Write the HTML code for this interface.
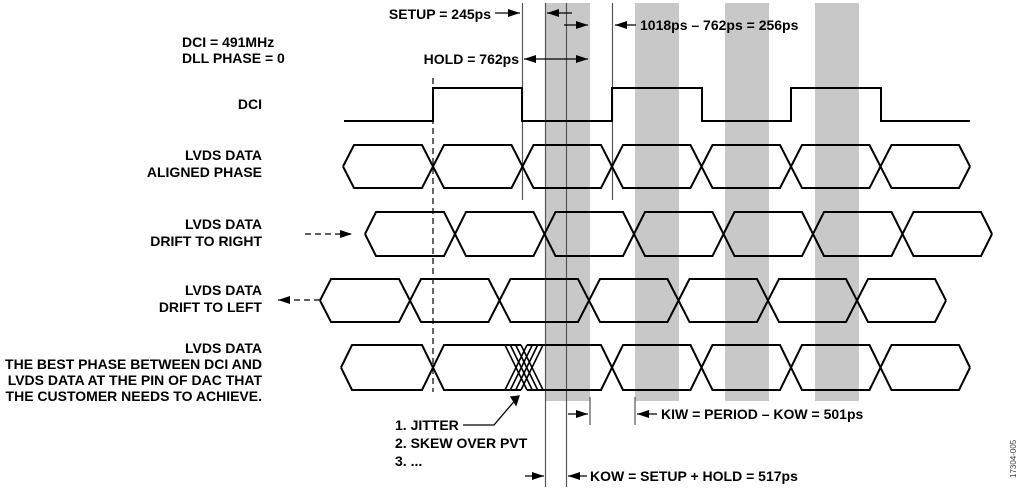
<!DOCTYPE html>
<html><head><meta charset="utf-8"><style>
html,body{margin:0;padding:0;background:#fff;}
svg{display:block;}
text{font-family:"Liberation Sans",Arial,sans-serif;font-weight:bold;font-size:14px;fill:#000;}
</style></head><body>
<svg width="1024" height="491" viewBox="0 0 1024 491" xmlns="http://www.w3.org/2000/svg">
<defs>
<marker id="ah" markerWidth="12" markerHeight="8" refX="12" refY="4" orient="auto" markerUnits="userSpaceOnUse"><path d="M0,0 L12,4 L0,8 Z" fill="#000"/></marker>
<marker id="as" markerWidth="12" markerHeight="8" refX="0" refY="4" orient="auto" markerUnits="userSpaceOnUse"><path d="M12,0 L0,4 L12,8 Z" fill="#000"/></marker>
</defs>
<g fill="#c8c8c8">
<rect x="545" y="3" width="45" height="398"/>
<rect x="635" y="3" width="44" height="398"/>
<rect x="725" y="3" width="44" height="398"/>
<rect x="815" y="3" width="44" height="398"/>
</g>
<g stroke="#555" stroke-width="1.2">
<line x1="522.5" y1="3" x2="522.5" y2="200"/>
<line x1="612.5" y1="3" x2="612.5" y2="200"/>
<line x1="545.5" y1="3" x2="545.5" y2="487"/>
<line x1="566.5" y1="3" x2="566.5" y2="487"/>
<line x1="590" y1="397" x2="590" y2="425"/>
<line x1="635" y1="397" x2="635" y2="425"/>
</g>
<line x1="433" y1="78" x2="433" y2="392" stroke="#333" stroke-width="1.5" stroke-dasharray="6,4"/>
<path d="M344,121 L433,121 L433,88 L522,88 L522,121 L612,121 L612,88 L702,88 L702,121 L791,121 L791,88 L881,88 L881,121 L970,121" fill="none" stroke="#000" stroke-width="2"/>
<g fill="none" stroke="#000" stroke-width="2" stroke-linejoin="miter">
<path d="M343,166.5 L354,145 L422,145 L444,188 L511.5,188 L533.5,145 L601,145 L623,188 L690.5,188 L712.5,145 L780,145 L802,188 L869.5,188 L891.5,145 L959,145 L970,166.5"/>
<path d="M343,166.5 L354,188 L422,188 L444,145 L511.5,145 L533.5,188 L601,188 L623,145 L690.5,145 L712.5,188 L780,188 L802,145 L869.5,145 L891.5,188 L959,188 L970,166.5"/>
<path d="M365,234 L376,212 L444,212 L466,256 L533.5,256 L555.5,212 L623,212 L645,256 L712.5,256 L734.5,212 L802,212 L824,256 L891.5,256 L913.5,212 L981,212 L992,234"/>
<path d="M365,234 L376,256 L444,256 L466,212 L533.5,212 L555.5,256 L623,256 L645,212 L712.5,212 L734.5,256 L802,256 L824,212 L891.5,212 L913.5,256 L981,256 L992,234"/>
<path d="M320,300.5 L331,279 L399,279 L421,322 L488.5,322 L510.5,279 L578,279 L600,322 L667.5,322 L689.5,279 L757,279 L779,322 L846,322 L868,279 L935,279 L946,300.5"/>
<path d="M320,300.5 L331,322 L399,322 L421,279 L488.5,279 L510.5,322 L578,322 L600,279 L667.5,279 L689.5,322 L757,322 L779,279 L846,279 L868,322 L935,322 L946,300.5"/>
<path d="M341,367.5 L352,345 L422,345 L444,390 L521,390"/>
<path d="M341,367.5 L352,390 L422,390 L444,345 L521,345"/>
<path d="M527,345 L601,345 L623,390 L690.5,390 L712.5,345 L780,345 L802,390 L869.5,390 L891.5,345 L959,345 L970,367.5"/>
<path d="M527,390 L601,390 L623,345 L690.5,345 L712.5,390 L780,390 L802,345 L869.5,345 L891.5,390 L959,390 L970,367.5"/>
</g>
<g stroke="#000" stroke-width="1.6">
<line x1="505" y1="390" x2="527" y2="345"/><line x1="505" y1="345" x2="527" y2="390"/>
<line x1="510.3" y1="390" x2="532.3" y2="345"/><line x1="510.3" y1="345" x2="532.3" y2="390"/>
<line x1="515.7" y1="390" x2="537.7" y2="345"/><line x1="515.7" y1="345" x2="537.7" y2="390"/>
<line x1="521" y1="390" x2="543" y2="345"/><line x1="521" y1="345" x2="543" y2="390"/>
</g>
<g stroke="#000" stroke-width="1.3" fill="none">
<line x1="495" y1="13" x2="520" y2="13" marker-end="url(#ah)"/>
<line x1="572" y1="13" x2="547" y2="13" marker-end="url(#ah)"/>
<line x1="564" y1="25" x2="588" y2="25" marker-end="url(#ah)"/>
<line x1="636" y1="25" x2="615" y2="25" marker-end="url(#ah)"/>
<line x1="524" y1="59" x2="588" y2="59" marker-start="url(#as)" marker-end="url(#ah)"/>
<line x1="305" y1="234" x2="352" y2="234" stroke-dasharray="6,4"/>
<path d="M340,230 L352,234 L340,238 Z" fill="#000" stroke="none"/>
<line x1="320" y1="300" x2="278" y2="300" stroke-dasharray="6,4"/>
<path d="M290,296 L278,300 L290,304 Z" fill="#000" stroke="none"/>
<path d="M463,425 L494,425 L517,398" />
<path d="M511,397 L519,396 L516,405 Z" fill="#000"/>
<line x1="568" y1="414" x2="588" y2="414" marker-end="url(#ah)"/>
<line x1="657" y1="414" x2="637" y2="414" marker-end="url(#ah)"/>
<line x1="525" y1="476" x2="544" y2="476" marker-end="url(#ah)"/>
<line x1="587" y1="476" x2="568" y2="476" marker-end="url(#ah)"/>
</g>
<text x="182" y="47">DCI = 491MHz</text>
<text x="182" y="63">DLL PHASE = 0</text>
<g text-anchor="end">
<text x="262" y="109">DCI</text>
<text x="262" y="160">LVDS DATA</text>
<text x="262" y="177">ALIGNED PHASE</text>
<text x="262" y="229">LVDS DATA</text>
<text x="262" y="246">DRIFT TO RIGHT</text>
<text x="262" y="295">LVDS DATA</text>
<text x="262" y="312">DRIFT TO LEFT</text>
<text x="262" y="353">LVDS DATA</text>
<text x="262" y="369">THE BEST PHASE BETWEEN DCI AND</text>
<text x="262" y="385">LVDS DATA AT THE PIN OF DAC THAT</text>
<text x="262" y="401">THE CUSTOMER NEEDS TO ACHIEVE.</text>
<text x="491" y="19">SETUP = 245ps</text>
<text x="519" y="64">HOLD = 762ps</text>
</g>
<text x="640" y="30">1018ps – 762ps = 256ps</text>
<text x="395" y="430">1. JITTER</text>
<text x="395" y="448">2. SKEW OVER PVT</text>
<text x="395" y="466">3. ...</text>
<text x="661" y="419">KIW = PERIOD – KOW = 501ps</text>
<text x="590" y="481">KOW = SETUP + HOLD = 517ps</text>
<text x="0" y="0" transform="translate(1016,478) rotate(-90)" style="font-weight:normal;font-size:8px;fill:#444">17304-005</text>
</svg>
</body></html>
